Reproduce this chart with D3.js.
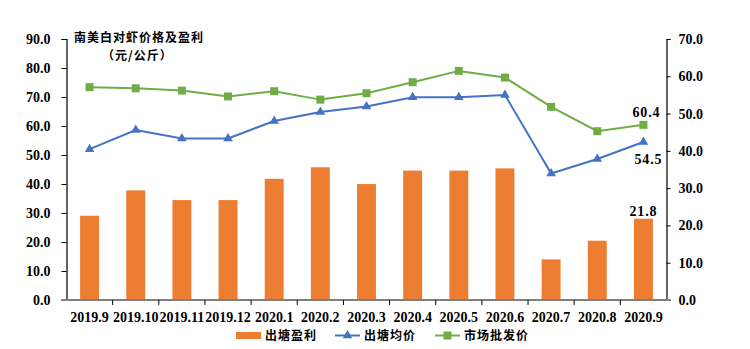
<!DOCTYPE html>
<html><head><meta charset="utf-8">
<script src="https://cdn.jsdelivr.net/npm/d3@7/dist/d3.min.js"></script>
<style>
body{margin:0;background:#fff;}
svg{display:block;}
.tk{font-family:"Liberation Serif","Times New Roman",serif;font-weight:bold;font-size:14px;fill:#000;}
.dl{font-family:"Liberation Serif","Times New Roman",serif;font-weight:bold;font-size:14px;fill:#000;letter-spacing:0.8px;}
.cj{font-family:"Noto Sans CJK SC",sans-serif;font-size:12px;fill:#000;letter-spacing:1px;}
</style></head>
<body><svg id="c" width="750" height="349"></svg>
<script>
const categories=["2019.9","2019.10","2019.11","2019.12","2020.1","2020.2","2020.3","2020.4","2020.5","2020.6","2020.7","2020.8","2020.9"];
const profit=[22.6,29.4,26.8,26.8,32.5,35.6,31.1,34.7,34.7,35.3,10.9,15.9,21.8];
const pondPrice=[52.0,58.6,55.7,55.7,61.7,64.8,66.7,69.9,69.9,70.7,43.6,48.6,54.5];
const marketPrice=[73.4,73.0,72.2,70.2,72.0,69.1,71.3,75.1,79.0,76.7,66.6,58.2,60.4];
const leftTicks=[0,10,20,30,40,50,60,70,80,90];
const rightTicks=[0,10,20,30,40,50,60,70];
const seriesNames=["出塘盈利","出塘均价","市场批发价"];
const titleLines=["南美白对虾价格及盈利","（元/公斤）"];

const svg=d3.select("#c");
const L=66.5,R=666.5,T=39,B=300;
const x=d3.scaleBand().domain(categories).range([L,R]).paddingInner(0.59).paddingOuter(0.295);
const xc=d=>x(d)+x.bandwidth()/2;
const yL=d3.scaleLinear().domain([0,90]).range([B,T]);
const yR=d3.scaleLinear().domain([0,70]).range([B,T]);
const orange="#ED7D31",blue="#4472C4",green="#70AD47";

// bars
svg.append("g").selectAll("rect").data(profit).join("rect")
 .attr("x",(d,i)=>x(categories[i])).attr("width",x.bandwidth())
 .attr("y",d=>yR(d)).attr("height",d=>B-yR(d)).attr("fill",orange);

// axes
const gl=svg.append("g").attr("transform",`translate(${L},0)`)
 .call(d3.axisLeft(yL).tickValues(leftTicks).tickSize(5).tickPadding(11).tickFormat(d3.format(".1f")));
const gr=svg.append("g").attr("transform",`translate(${R},0)`)
 .call(d3.axisRight(yR).tickValues(rightTicks).tickSize(4).tickPadding(8).tickFormat(d3.format(".1f")));
[gl,gr].forEach(g=>{g.selectAll("path").attr("stroke","#000").attr("stroke-width",1.2);
 g.selectAll("line").attr("stroke","#000");
 g.selectAll("text").attr("class","tk");
 g.attr("font-size",null).attr("font-family",null);});

// x axis
const bounds=d3.range(categories.length+1).map(i=>L+i*(R-L)/categories.length);
const gx=svg.append("g");
gx.append("line").attr("x1",L-5).attr("x2",R+4).attr("y1",B).attr("y2",B).attr("stroke","#7f7f7f").attr("stroke-width",1.8);
gx.selectAll(".t").data(bounds.slice(1,-1)).join("line").attr("class","t")
 .attr("x1",d=>d).attr("x2",d=>d).attr("y1",B).attr("y2",B+5).attr("stroke","#000");
gx.selectAll("text").data(categories).join("text").attr("class","tk")
 .attr("x",d=>xc(d)).attr("y",322).attr("text-anchor","middle").text(d=>d);

// lines
const line=d3.line().x((d,i)=>xc(categories[i])).y(d=>yL(d));
svg.append("path").datum(pondPrice).attr("d",line).attr("fill","none").attr("stroke",blue).attr("stroke-width",2);
svg.append("path").datum(marketPrice).attr("d",line).attr("fill","none").attr("stroke",green).attr("stroke-width",2);
const tri=d3.symbol().type(d3.symbolTriangle).size(40);
svg.append("g").selectAll("path").data(pondPrice).join("path")
 .attr("d",tri).attr("transform",(d,i)=>`translate(${xc(categories[i])},${yL(d)})`).attr("fill",blue);
svg.append("g").selectAll("rect").data(marketPrice).join("rect")
 .attr("x",(d,i)=>xc(categories[i])-4).attr("y",d=>yL(d)-4).attr("width",8).attr("height",8).attr("fill",green);

// data labels
const last=categories.length-1, lc=xc(categories[last]);
svg.append("text").attr("class","dl").attr("x",lc+3).attr("y",yL(marketPrice[last])-8).attr("text-anchor","middle").text(d3.format(".1f")(marketPrice[last]));
svg.append("text").attr("class","dl").attr("x",lc+5).attr("y",yL(pondPrice[last])+22).attr("text-anchor","middle").text(d3.format(".1f")(pondPrice[last]));
svg.append("text").attr("class","dl").attr("x",lc).attr("y",yR(profit[last])-3).attr("text-anchor","middle").text(d3.format(".1f")(profit[last]));

// title
svg.append("text").attr("class","cj").attr("x",74).attr("y",42).style("font-weight","bold").text(titleLines[0]);
svg.append("text").attr("class","cj").attr("x",102).attr("y",60).style("font-weight","bold").text(titleLines[1]);

// legend
const lg=svg.append("g");
lg.append("rect").attr("x",236).attr("y",332).attr("width",25).attr("height",7).attr("fill",orange);
lg.append("text").attr("class","cj").attr("x",265).attr("y",340).style("font-weight","bold").text(seriesNames[0]);
lg.append("line").attr("x1",335).attr("x2",360).attr("y1",335.5).attr("y2",335.5).attr("stroke",blue).attr("stroke-width",2);
lg.append("path").attr("d",tri).attr("transform","translate(347.5,335.5)").attr("fill",blue);
lg.append("text").attr("class","cj").attr("x",364).attr("y",340).style("font-weight","bold").text(seriesNames[1]);
lg.append("line").attr("x1",435).attr("x2",460).attr("y1",335.5).attr("y2",335.5).attr("stroke",green).attr("stroke-width",2);
lg.append("rect").attr("x",443.5).attr("y",331.5).attr("width",8).attr("height",8).attr("fill",green);
lg.append("text").attr("class","cj").attr("x",464).attr("y",340).style("font-weight","bold").text(seriesNames[2]);
</script></body></html>
